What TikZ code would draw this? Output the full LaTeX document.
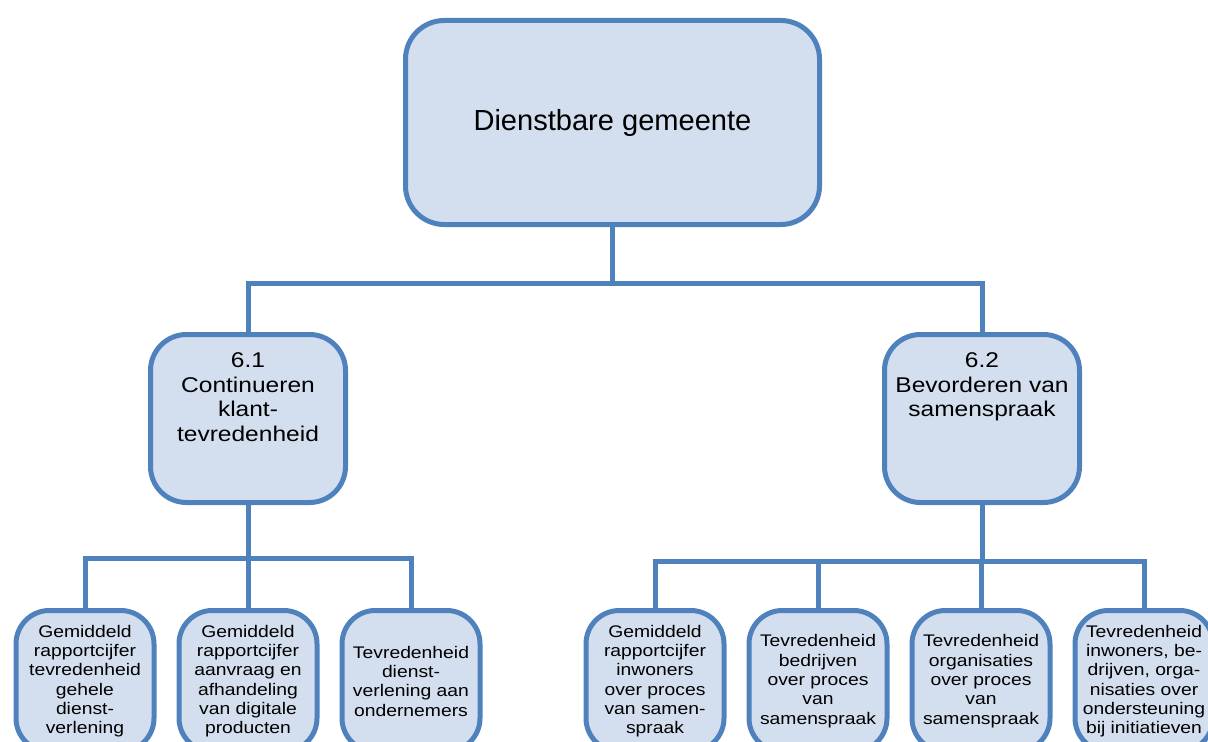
\documentclass[tikz,border=0pt]{standalone}
\usepackage{fontspec}
\setmainfont{Liberation Sans}
\newfontfamily\boxfont[FakeStretch=1.15]{Liberation Sans}
\usepackage{tikz}
\usetikzlibrary{positioning}
\definecolor{rimblue}{HTML}{4F81BD}
\definecolor{paleblue}{HTML}{D3DFEE}
\tikzset{
  goalbox/.style={draw=rimblue, fill=paleblue, line width=3.75pt, rounded corners=29pt,
    minimum width=310.5pt, minimum height=153pt, inner sep=0pt,
    font=\fontsize{21.8}{25}\selectfont},
  subbox/.style={draw=rimblue, fill=paleblue, line width=3.75pt, rounded corners=27pt,
    minimum width=146.25pt, minimum height=126pt, inner sep=0pt},
  subtext/.style={inner sep=0pt, align=center, font=\boxfont\fontsize{16}{18.4}\selectfont},
  leafbox/.style={draw=rimblue, fill=paleblue, line width=3.75pt, rounded corners=25pt,
    minimum width=103.5pt, minimum height=105.75pt, inner sep=0pt, align=center,
    font=\boxfont\fontsize{12.6}{14.5}\selectfont},
  link/.style={draw=rimblue, line width=3.75pt}
}
\begin{document}
\begin{tikzpicture}[x=0.75pt, y=-0.75pt]
			%%%%% START %%%%%
			\useasboundingbox (0, 0) rectangle (1208, 742);
			\clip (0, 0) rectangle (1208, 742);
			
			\coordinate (bus) at (0, 283);
			\coordinate (busl) at (0, 558);
			\coordinate (busr) at (0, 561);
			
			% top
			\node[goalbox] (top) at (612.5, 122.5) {Dienstbare gemeente};
			
			% middle level
			\node[subbox] (sub1) at (248, 418.5) {};
			\node[subtext, below=15.4pt of sub1.north] (sub1t) {6.1\\Continueren\\klant-\\tevredenheid};
			\node[subbox] (sub2) at (982, 418.5) {};
			\node[subtext, below=15.4pt of sub2.north] (sub2t) {6.2\\Bevorderen van\\samenspraak};
			
			% bottom level
			\node[leafbox] (leaf1) at (85, 681) {Gemiddeld\\rapportcijfer\\tevredenheid\\gehele\\dienst-\\verlening};
			\node[leafbox] (leaf2) at (248, 681) {Gemiddeld\\rapportcijfer\\aanvraag en\\afhandeling\\van digitale\\producten};
			\node[leafbox] (leaf3) at (411, 681) {Tevredenheid\\dienst-\\verlening aan\\ondernemers};
			\node[leafbox] (leaf4) at (655, 681) {Gemiddeld\\rapportcijfer\\inwoners\\over proces\\van samen-\\spraak};
			\node[leafbox] (leaf5) at (818, 681) {Tevredenheid\\bedrijven\\over proces\\van\\samenspraak};
			\node[leafbox] (leaf6) at (981, 681) {Tevredenheid\\organisaties\\over proces\\van\\samenspraak};
			\node[leafbox] (leaf7) at (1144, 681) {Tevredenheid\\inwoners, be-\\drijven, orga-\\nisaties over\\ondersteuning\\bij initiatieven};
			
			% connectors
			\draw[link] (top.south) -- (top.south |- bus) -| (sub1.north);
			\draw[link] (top.south |- bus) -| (sub2.north);
			\foreach \leaf in {leaf1, leaf2, leaf3}
				\draw[link] (sub1.south) -- (sub1.south |- busl) -| (\leaf.north);
			\foreach \leaf in {leaf4, leaf5, leaf6, leaf7}
				\draw[link] (sub2.south) -- (sub2.south |- busr) -| (\leaf.north);
			%%%%% END %%%%%
\end{tikzpicture}
\end{document}
